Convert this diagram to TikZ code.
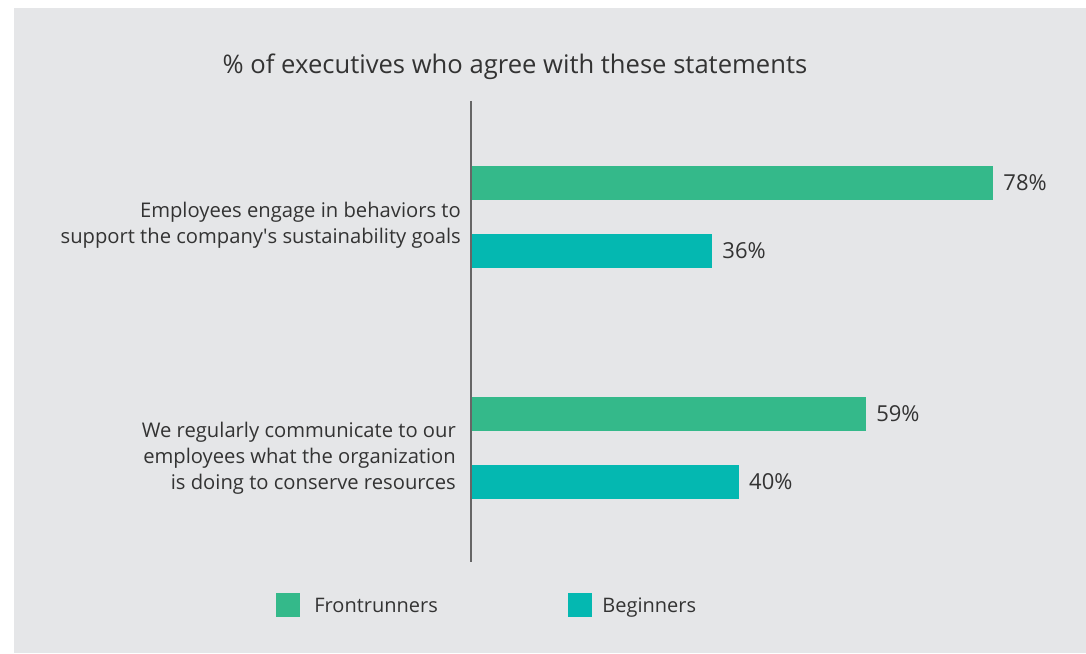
\documentclass[tikz,border=0pt]{standalone}
\usepackage{fontspec}
\setmainfont{Open Sans}
\usepackage{xcolor}
\usetikzlibrary{positioning, calc}
\definecolor{bg}{HTML}{E5E6E8}
\definecolor{front}{HTML}{34B98A}
\definecolor{begin}{HTML}{04B8B1}
\definecolor{ink}{HTML}{333333}
\newcommand{\pc}{6.69pt}
\tikzset{%
	fbar/.style={rectangle, fill=front, minimum height=34pt, inner sep=0pt, anchor=west},
	bbar/.style={rectangle, fill=begin, minimum height=34pt, inner sep=0pt, anchor=west},
	val/.style={inner sep=0pt, text=ink, font=\fontsize{22}{26}\selectfont,
		text height=0.72em, text depth=0pt, yshift=-4pt},
	cat/.style={inner sep=0pt, text=ink, align=right, anchor=east, font=\fontsize{20.2}{25.8}\selectfont},
	key/.style={rectangle, minimum size=24pt, inner sep=0pt},
	keytext/.style={inner sep=0pt, text=ink, font=\fontsize{20}{24}\selectfont,
		text height=0.72em, text depth=0pt, yshift=-4pt}
}
\begin{document}
\begin{tikzpicture}[x=1pt, y=1pt]
	\useasboundingbox (0,0) rectangle (1086,653);
	\fill[bg] (14,0) rectangle (1086,645);

	\node[text=ink, font=\fontsize{25.6}{30}\selectfont, inner sep=0pt] (title) at (515,586) {\% of executives who agree with these statements};

	\coordinate (top) at (471,552);
	\coordinate (bot) at (471,91);

	\node[fbar, minimum width=78*\pc] (f1) at (471,470) {};
	\node[bbar, minimum width=36*\pc] (b1) at (471,402) {};
	\node[fbar, minimum width=59*\pc] (f2) at (471,239) {};
	\node[bbar, minimum width=40*\pc] (b2) at (471,171) {};

	\draw[ink!75, line width=1.2pt] (top) -- (bot);

	\node[val, right=10pt of f1.east] (v1) {78\%};
	\node[val, right=10pt of b1.east] (v2) {36\%};
	\node[val, right=10pt of f2.east] (v3) {59\%};
	\node[val, right=10pt of b2.east] (v4) {40\%};

	\node[cat] (c1) at (461,428) {Employees engage in behaviors to\\support the company\textquotesingle s sustainability goals};
	\node[cat] (c2) at (456,195) {We regularly communicate to our\\employees what the organization\\is doing to conserve resources};

	\node[key, fill=front] (k1) at (288,48) {};
	\node[keytext, right=14pt of k1] (t1) {Frontrunners};
	\node[key, fill=begin] (k2) at (580,48) {};
	\node[keytext, right=10pt of k2] (t2) {Beginners};
\end{tikzpicture}
\end{document}
